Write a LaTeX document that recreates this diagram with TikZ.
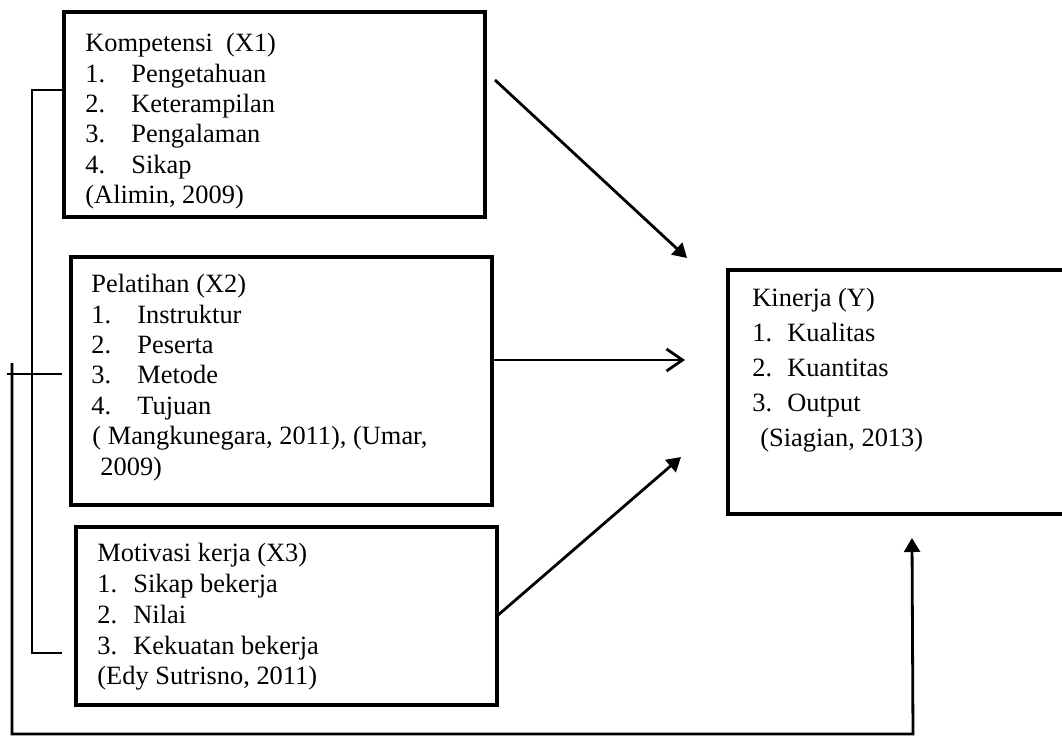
\documentclass[tikz,border=0pt]{standalone}
\usepackage{fontspec}
\setmainfont{Liberation Serif}
\usetikzlibrary{
		calc,
		positioning,
		arrows.meta
	}
\tikzset{
		>=stealth
	}
\newcommand{\lnum}[2]{\makebox[#1][l]{#2}}

\begin{document}
\begin{tikzpicture}[x=0.5pt, y=-0.5pt,
	frame/.style={draw, line width=2.4pt, outer sep=0pt, inner sep=0pt, anchor=north west, minimum width=210.5pt},
	txt/.style={anchor=north west, align=left, inner sep=0pt, font=\fontsize{13.2}{15.2}\selectfont},
	wire/.style={line width=1.4pt},
	tip/.style={wire, -{Triangle[length=7pt, width=8pt]}},
	barb/.style={wire, -{Straight Barb[length=8pt, width=11pt]}}]
	\useasboundingbox (0,0) rectangle (1062,736);
	\clip (0,0) rectangle (1062,736);
	% the four boxes
	\node[frame, minimum height=102.5pt] (komp) at (64,12) {};
	\node[frame, minimum height=124pt] (pel) at (71,257) {};
	\node[frame, minimum height=89pt] (mot) at (76,527) {};
	\node[frame, minimum width=200pt, minimum height=122pt] (kin) at (728,270) {};
	\node[txt] (kompT) at ($(komp.north west)+(21,21)$) {Kompetensi\ \ (X1)\\
		\lnum{23pt}{1.}Pengetahuan\\ \lnum{23pt}{2.}Keterampilan\\
		\lnum{23pt}{3.}Pengalaman\\ \lnum{23pt}{4.}Sikap\\ (Alimin, 2009)};
	\node[txt] (pelT) at ($(pel.north west)+(20,17)$) {Pelatihan (X2)\\
		\lnum{23pt}{1.}Instruktur\\ \lnum{23pt}{2.}Peserta\\
		\lnum{23pt}{3.}Metode\\ \lnum{23pt}{4.}Tujuan\\
		\hspace*{0.5pt}( Mangkunegara, 2011), (Umar,\\ \hspace*{4.5pt}2009)};
	\node[txt, font=\fontsize{13.2}{15.4}\selectfont] (motT) at ($(mot.north west)+(21,16)$) {Motivasi kerja (X3)\\
		\lnum{18pt}{1.}Sikap bekerja\\ \lnum{18pt}{2.}Nilai\\
		\lnum{18pt}{3.}Kekuatan bekerja\\ (Edy Sutrisno, 2011)};
	\node[txt, font=\fontsize{13.2}{17.5}\selectfont] (kinT) at ($(kin.north west)+(24,18)$) {Kinerja (Y)\\
		\lnum{17.5pt}{1.}Kualitas\\ \lnum{17.5pt}{2.}Kuantitas\\
		\lnum{17.5pt}{3.}Output\\ \hspace*{4pt}(Siagian, 2013)};
	% bracket and feedback line
	\coordinate (brA) at (62,90);
	\coordinate (brB) at (32,90);
	\coordinate (brC) at (32,653);
	\coordinate (brD) at (62,653);
	\coordinate (midA) at (7,374);
	\coordinate (midB) at (62,374);
	\coordinate (fbA) at (12,363);
	\coordinate (fbB) at (12,734);
	\coordinate (fbC) at (913,734);
	\coordinate (fbD) at (912,538);
	\draw[wire] (brA) -- (brB) -- (brC) -- (brD);
	\draw[wire] (midA) -- (midB);
	\draw[tip] (fbA) -- (fbB) -- (fbC) -- (fbD);
	% arrows to Kinerja
	\coordinate (k1) at (495,80);
	\coordinate (k2) at (687,258);
	\coordinate (p2) at (685,360);
	\coordinate (m2) at (681,457);
	\draw[tip] (k1) -- (k2);
	\draw[barb] (pel.east |- p2) -- (p2);
	\draw[tip] (mot.east) -- (m2);
\end{tikzpicture}
\end{document}
